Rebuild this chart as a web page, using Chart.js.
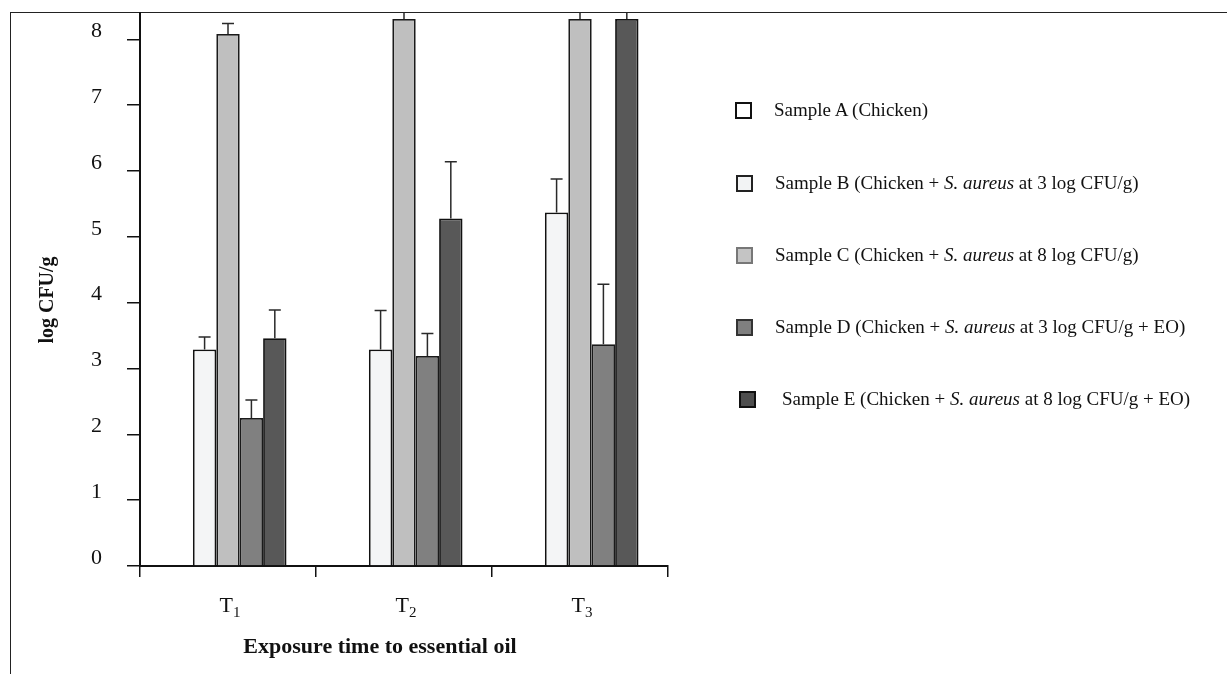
<!DOCTYPE html>
<html>
<head>
<meta charset="utf-8">
<script src="https://cdn.jsdelivr.net/npm/chart.js@4.4.1/dist/chart.umd.min.js"></script>
<style>
  html, body { margin: 0; padding: 0; background: #fff; }
  #wrap { position: relative; width: 1227px; height: 674px; overflow: hidden; background: #fff; }
  #frame { position: absolute; left: 10px; top: 12px; width: 1300px; height: 700px;
           border-left: 1.5px solid #222; border-top: 1.5px solid #222; }
  #chart { position: absolute; left: 0; top: 0; }
  #legend { position: absolute; left: 0; top: 0; font-family: "Liberation Serif", "Times New Roman", serif;
            font-size: 19px; color: #111; }
  .row { position: absolute; display: flex; align-items: center; white-space: nowrap; height: 24px; }
  .sw { width: 17px; height: 17px; box-sizing: border-box; margin-right: 22px; }
</style>
</head>
<body>
<div id="wrap">
  <div id="frame"></div>
  <canvas id="chart" width="1227" height="674"></canvas>
  <div id="legend"></div>
</div>
<script>
// ---- data ----
const categories = ['T1', 'T2', 'T3'];
const seriesNames = [
  'Sample A (Chicken)',
  'Sample B (Chicken + S. aureus at 3 log CFU/g)',
  'Sample C (Chicken + S. aureus at 8 log CFU/g)',
  'Sample D (Chicken + S. aureus at 3 log CFU/g + EO)',
  'Sample E (Chicken + S. aureus at 8 log CFU/g + EO)'
];
const sampleA = [0, 0, 0];
const sampleB = [3.29, 3.29, 5.37];
const sampleC = [8.08, 8.31, 8.31];
const sampleD = [2.25, 3.19, 3.37];
const sampleE = [3.46, 5.28, 8.31];
const errA = [0, 0, 0];
const errB = [0.19, 0.59, 0.51];
const errC = [0.16, 0.2, 0.2];
const errD = [0.27, 0.34, 0.91];
const errE = [0.43, 0.86, 0.2];
const yTicks = [0, 1, 2, 3, 4, 5, 6, 7, 8];
const yAxisTitle = 'log CFU/g';
const xAxisTitle = 'Exposure time to essential oil';

// ---- styles ----
const fills = ['#ffffff', '#f4f5f6', '#bfbfbf', '#808080', '#585858'];
const borders = ['#111', '#111', '#1a1a1a', '#1a1a1a', '#111'];
const swatchFills = ['#ffffff', '#f2f3f4', '#c4c4c4', '#7f7f7f', '#4e4e4e'];
const swatchBorders = ['#111', '#222', '#777', '#333', '#111'];

const values = [sampleA, sampleB, sampleC, sampleD, sampleE];
const errors = [errA, errB, errC, errD, errE];
const serif = '"Liberation Serif", "Times New Roman", serif';

const datasets = seriesNames.map((name, i) => ({
  label: name,
  data: values[i],
  errors: errors[i],
  backgroundColor: fills[i],
  borderColor: borders[i],
  borderWidth: i === 0 ? 0 : 1.8,
  categoryPercentage: 0.665,
  barPercentage: 1.0
}));

const errorBars = {
  id: 'errorBars',
  afterDatasetsDraw(chart) {
    const { ctx, chartArea, scales } = chart;
    const y = scales.y;
    ctx.save();
    ctx.beginPath();
    ctx.rect(chartArea.left - 20, chartArea.top, chartArea.width + 40, chartArea.height);
    ctx.clip();
    ctx.strokeStyle = '#2a2a2a';
    ctx.lineWidth = 1.5;
    chart.data.datasets.forEach((ds, i) => {
      const meta = chart.getDatasetMeta(i);
      meta.data.forEach((bar, j) => {
        const e = ds.errors[j];
        if (!e) return;
        const yTop = y.getPixelForValue(ds.data[j] + e);
        ctx.beginPath();
        ctx.moveTo(bar.x, bar.y);
        ctx.lineTo(bar.x, yTop);
        ctx.moveTo(bar.x - 6, yTop);
        ctx.lineTo(bar.x + 6, yTop);
        ctx.stroke();
      });
    });
    ctx.restore();
  }
};

// x tick labels with subscript digits, and axis titles
const axisText = {
  id: 'axisText',
  afterDraw(chart) {
    const { ctx, chartArea, scales } = chart;
    const x = scales.x;
    ctx.save();
    ctx.fillStyle = '#111';
    ctx.textBaseline = 'alphabetic';
    ctx.textAlign = 'left';
    categories.forEach((lab, i) => {
      const main = lab.slice(0, 1), sub = lab.slice(1);
      ctx.font = '22px ' + serif;
      const w1 = ctx.measureText(main).width;
      ctx.font = '15px ' + serif;
      const w2 = ctx.measureText(sub).width;
      const cx = x.getPixelForValue(i) + 2;
      const start = cx - (w1 + w2) / 2;
      const base = chartArea.bottom + 46;
      ctx.font = '22px ' + serif;
      ctx.fillText(main, start, base);
      ctx.font = '15px ' + serif;
      ctx.fillText(sub, start + w1, base + 5);
    });
    ctx.textAlign = 'center';
    ctx.textBaseline = 'middle';
    ctx.font = 'bold 22px ' + serif;
    ctx.fillText(xAxisTitle, chartArea.left + 240, chartArea.bottom + 81);
    ctx.translate(48, chartArea.top + 287);
    ctx.rotate(-Math.PI / 2);
    ctx.font = 'bold 20px ' + serif;
    ctx.fillText(yAxisTitle, 0, 0);
    ctx.restore();
  }
};

new Chart(document.getElementById('chart'), {
  type: 'bar',
  data: { labels: categories, datasets },
  plugins: [errorBars, axisText],
  options: {
    responsive: false,
    animation: false,
    devicePixelRatio: 1,
    layout: { padding: { left: 0, top: 13, right: 559, bottom: 0 } },
    plugins: { legend: { display: false }, tooltip: { enabled: false } },
    scales: {
      x: {
        offset: true,
        grid: { offset: true, drawOnChartArea: false, drawTicks: true, tickLength: 11, color: '#111', lineWidth: 1.5 },
        border: { display: true, color: '#111', width: 2 },
        ticks: { display: false },
        afterFit: s => { s.height = 108; s.paddingLeft = 0; s.paddingRight = 0; }
      },
      y: {
        min: 0,
        max: 8.4,
        grid: { drawOnChartArea: false, drawTicks: true, tickLength: 13, color: '#111', lineWidth: 1.5 },
        border: { display: true, color: '#111', width: 2 },
        ticks: { stepSize: 1, color: '#111', font: { family: serif, size: 22 }, padding: 25, labelOffset: -8 },
        afterBuildTicks: s => { s.ticks = yTicks.map(v => ({ value: v })); },
        afterFit: s => { s.width = 140; s.paddingTop = 0; s.paddingBottom = 0; }
      }
    }
  }
});

// ---- legend (HTML text, italic species name) ----
const legend = document.getElementById('legend');
const rowTops = [98, 171, 243, 315, 387];
const rowLefts = [735, 736, 736, 736, 739];
seriesNames.forEach((name, i) => {
  const row = document.createElement('div');
  row.className = 'row';
  row.style.left = rowLefts[i] + 'px';
  row.style.top = rowTops[i] + 'px';
  const sw = document.createElement('div');
  sw.className = 'sw';
  sw.style.background = swatchFills[i];
  sw.style.border = '2px solid ' + swatchBorders[i];
  if (i === 4) sw.style.marginRight = '26px';
  const txt = document.createElement('span');
  txt.innerHTML = name.replace('S. aureus', '<i>S. aureus</i>');
  row.appendChild(sw);
  row.appendChild(txt);
  legend.appendChild(row);
});
</script>
</body>
</html>
